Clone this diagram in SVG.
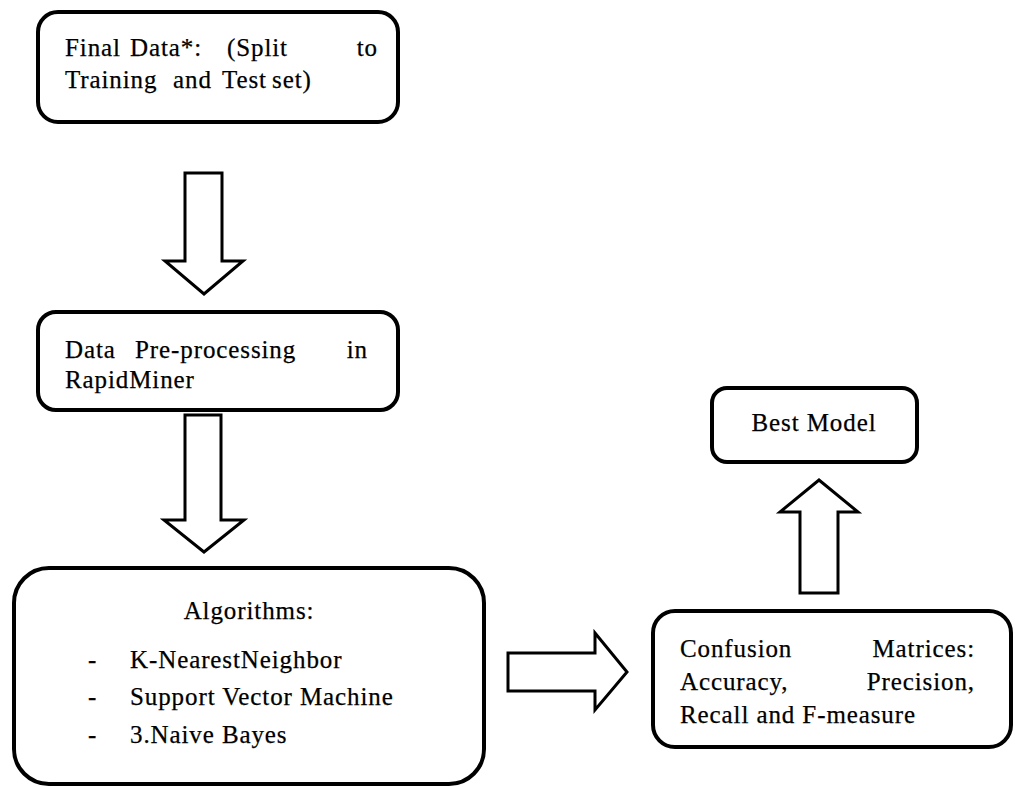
<svg xmlns="http://www.w3.org/2000/svg" width="1015" height="787" viewBox="0 0 1015 787">
<style>
.box{fill:#fff;stroke:#000;stroke-width:4}
.arr{fill:#fff;stroke:#000;stroke-width:3;stroke-linejoin:miter}
text{font-family:"Liberation Serif","Times New Roman","DejaVu Serif",serif;font-size:25px;letter-spacing:0.9px;fill:#000;stroke:#000;stroke-width:0.25}
.e{text-anchor:end}
.m{text-anchor:middle}
</style>
<rect width="1015" height="787" fill="#fff"/>
<g id="connectors">
<polygon class="arr" points="185,173 222,173 222,261 243,261 204,294 165,261 185,261"/>
<polygon class="arr" points="185,415 221,415 221,520 244,520 204,552 164,520 185,520"/>
<polygon class="arr" points="800,593 838,593 838,512 858,512 819,480 780,512 800,512"/>
<polygon class="arr" points="508,653 595,653 595,633 627,672 595,710 595,691 508,691"/>
</g>
<g id="final-data">
<rect class="box" x="38" y="12" width="360" height="110" rx="20"/>
<text x="65" y="56">Final</text>
<text x="130" y="56">Data*:</text>
<text x="227" y="56">(Split</text>
<text class="e" x="378" y="56">to</text>
<text x="65" y="88">Training</text>
<text x="173" y="88">and</text>
<text x="222" y="88">Test</text>
<text x="272" y="88">set)</text>
</g>
<g id="preprocessing">
<rect class="box" x="38" y="312" width="360" height="98" rx="18"/>
<text x="65" y="358">Data</text>
<text x="135" y="358">Pre-processing</text>
<text class="e" x="368" y="358">in</text>
<text x="65" y="388">RapidMiner</text>
</g>
<g id="algorithms">
<rect class="box" x="14" y="568" width="470" height="216" rx="35"/>
<text class="m" x="249" y="619">Algorithms:</text>
<text x="88" y="668">-</text>
<text x="130" y="668">K-NearestNeighbor</text>
<text x="88" y="705">-</text>
<text x="130" y="705">Support Vector Machine</text>
<text x="88" y="743">-</text>
<text x="130" y="743">3.Naive Bayes</text>
</g>
<g id="best-model">
<rect class="box" x="712" y="388" width="205" height="74" rx="15"/>
<text class="m" x="814" y="431">Best Model</text>
</g>
<g id="confusion">
<rect class="box" x="653" y="611" width="358" height="136" rx="22"/>
<text x="680" y="657">Confusion</text>
<text class="e" x="975" y="657">Matrices:</text>
<text x="680" y="690">Accuracy,</text>
<text class="e" x="975" y="690">Precision,</text>
<text x="680" y="723">Recall  and F-measure</text>
</g>
</svg>
